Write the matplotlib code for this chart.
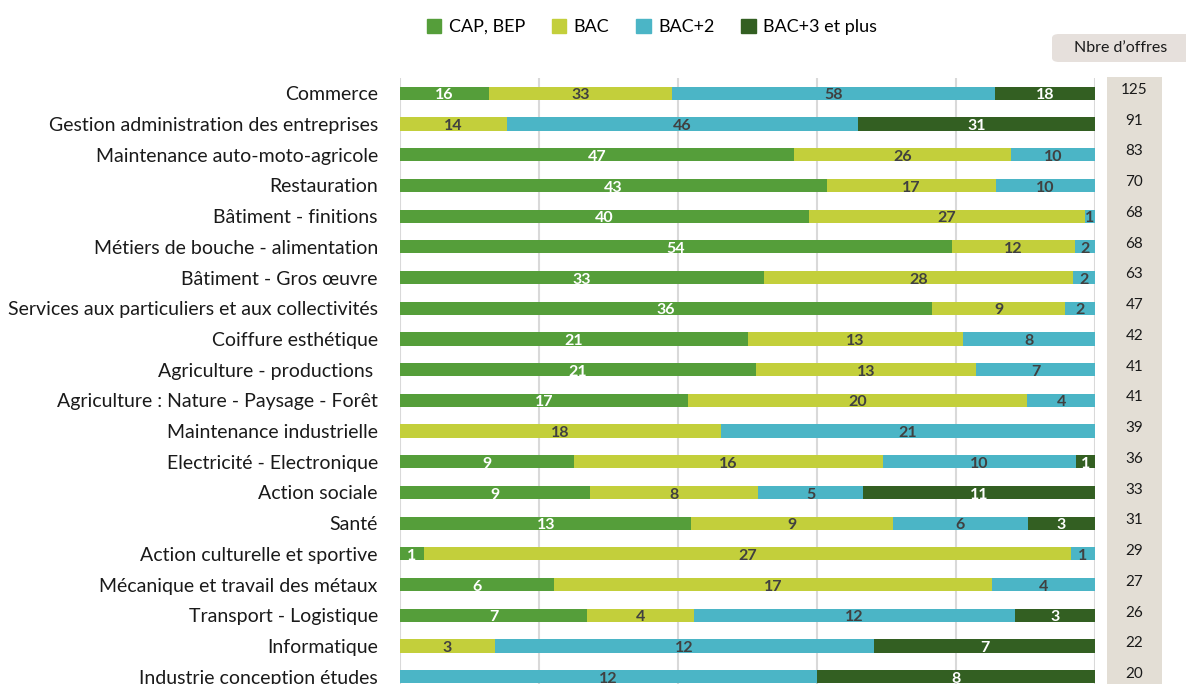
import matplotlib.pyplot as plt
import numpy as np
from matplotlib.patches import FancyBboxPatch, Patch

plt.rcParams['font.family'] = ['Lato', 'DejaVu Sans']

categories = [
    "Commerce",
    "Gestion administration des entreprises",
    "Maintenance auto-moto-agricole",
    "Restauration",
    "Bâtiment - finitions",
    "Métiers de bouche - alimentation",
    "Bâtiment - Gros œuvre",
    "Services aux particuliers et aux collectivités",
    "Coiffure esthétique",
    "Agriculture - productions ",
    "Agriculture : Nature - Paysage - Forêt",
    "Maintenance industrielle",
    "Electricité - Electronique",
    "Action sociale",
    "Santé",
    "Action culturelle et sportive",
    "Mécanique et travail des métaux",
    "Transport - Logistique",
    "Informatique",
    "Industrie conception études",
]

cap_bep = [16, 0, 47, 43, 40, 54, 33, 36, 21, 21, 17, 0, 9, 9, 13, 1, 6, 7, 0, 0]
bac = [33, 14, 26, 17, 27, 12, 28, 9, 13, 13, 20, 18, 16, 8, 9, 27, 17, 4, 3, 0]
bac2 = [58, 46, 10, 10, 1, 2, 2, 2, 8, 7, 4, 21, 10, 5, 6, 1, 4, 12, 12, 12]
bac3 = [18, 31, 0, 0, 0, 0, 0, 0, 0, 0, 0, 0, 1, 11, 3, 0, 0, 3, 7, 8]
nb_offres = [125, 91, 83, 70, 68, 68, 63, 47, 42, 41, 41, 39, 36, 33, 31, 29, 27, 26, 22, 20]

series = [
    ("CAP, BEP", cap_bep, "#559E3A", "white"),
    ("BAC", bac, "#C3CF3B", "#404040"),
    ("BAC+2", bac2, "#4BB5C6", "#404040"),
    ("BAC+3 et plus", bac3, "#335F22", "white"),
]

W, H = 1186, 684
fig = plt.figure(figsize=(W / 100, H / 100), dpi=100)

def px(x0, y_top, x1, y_bot):
    return [x0 / W, 1 - y_bot / H, (x1 - x0) / W, (y_bot - y_top) / H]

ax = fig.add_axes(px(400, 78, 1095, 692))
n = len(categories)
y = np.arange(n)
totals = np.array(nb_offres, dtype=float)
left = np.zeros(n)
for name, vals, color, tcolor in series:
    vals = np.array(vals, dtype=float)
    pct = vals / totals * 100
    ax.barh(y, pct, left=left, height=0.43, color=color, label=name, zorder=3)
    for i in range(n):
        if vals[i] > 0:
            ax.text(left[i] + pct[i] / 2, y[i] + 0.07, f"{int(vals[i])}", ha="center", va="center",
                    color=tcolor, fontsize=11.5, fontweight="bold", zorder=4)
    left += pct

ax.set_xlim(0, 100)
ax.set_ylim(n - 0.5, -0.5)
ax.set_xticks([0, 20, 40, 60, 80, 100])
ax.set_xticklabels([])
ax.tick_params(axis="x", length=0)
ax.tick_params(axis="y", length=0, pad=16, labelsize=14, labelcolor="#1a1a1a")
ax.set_yticks(y)
ax.set_yticklabels(categories)
ax.grid(axis="x", color="#D9D9D9", linewidth=1.5, zorder=0)
for s in ax.spines.values():
    s.set_visible(False)

# column with the number of offers
axn = fig.add_axes(px(1107, 77, 1162, 692))
axn.set_facecolor("#E3DED5")
axn.set_xlim(0, 1)
axn.set_ylim(n - 0.5, -0.5)
axn.set_xticks([])
axn.set_yticks([])
for s in axn.spines.values():
    s.set_visible(False)
for i, v in enumerate(nb_offres):
    axn.text(0.5, y[i] - 0.08, str(v), ha="center", va="center", fontsize=11, color="#1a1a1a")

box = FancyBboxPatch((1052 / W, 1 - 62 / H), 140 / W, 28 / H,
                     boxstyle="round,pad=0,rounding_size=0.006",
                     transform=fig.transFigure, facecolor="#E6E0DC", edgecolor="none")
fig.patches.append(box)
fig.text(1121 / W, 1 - 48 / H, "Nbre d’offres", ha="center", va="center", fontsize=11.5, color="#1a1a1a")

handles = [Patch(color=c, label=nm) for nm, _, c, _ in series]
fig.legend(handles=handles, loc="center", bbox_to_anchor=(652 / W, 1 - 27 / H), ncol=4,
           frameon=False, fontsize=13, handlelength=0.8, handleheight=0.8,
           handletextpad=0.4, columnspacing=1.5)

fig.savefig("out.png", dpi=100)
